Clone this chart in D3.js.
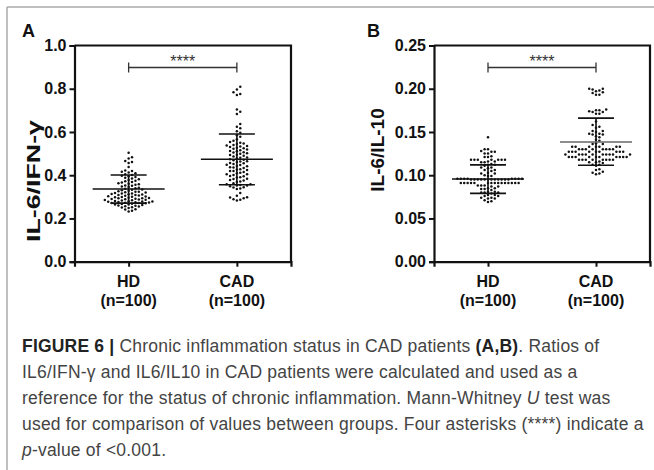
<!DOCTYPE html>
<html>
<head>
<meta charset="utf-8">
<script src="https://cdn.jsdelivr.net/npm/d3@7/dist/d3.min.js"></script>
<style>
	body { margin: 0; background: #fff; }
	svg { display: block; }
</style>
</head>
<body>
<script>
// 1. data
var groups = ["HD", "CAD"];
var groupNotes = ["(n=100)", "(n=100)"];

// panel A: IL-6/IFN-gamma
var ifnHD = [0.232, 0.236, 0.241, 0.243, 0.248, 0.251, 0.252, 0.255, 0.257, 0.259,
	0.26, 0.262, 0.264, 0.265, 0.267, 0.268, 0.27, 0.271, 0.271, 0.273,
	0.274, 0.275, 0.276, 0.277, 0.278, 0.279, 0.28, 0.281, 0.283, 0.284,
	0.285, 0.286, 0.288, 0.289, 0.29, 0.291, 0.293, 0.294, 0.295, 0.296,
	0.298, 0.299, 0.3, 0.302, 0.303, 0.305, 0.306, 0.308, 0.309, 0.311,
	0.312, 0.313, 0.315, 0.316, 0.318, 0.32, 0.321, 0.323, 0.324, 0.326,
	0.328, 0.331, 0.333, 0.334, 0.337, 0.34, 0.342, 0.345, 0.348, 0.351,
	0.353, 0.356, 0.358, 0.361, 0.363, 0.366, 0.369, 0.372, 0.375, 0.378,
	0.381, 0.385, 0.388, 0.392, 0.395, 0.398, 0.401, 0.405, 0.409, 0.413,
	0.416, 0.419, 0.422, 0.438, 0.457, 0.461, 0.466, 0.477, 0.483, 0.504];
var ifnCAD = [0.283, 0.287, 0.289, 0.294, 0.297, 0.298, 0.305, 0.318, 0.336, 0.338,
	0.343, 0.344, 0.349, 0.352, 0.353, 0.355, 0.358, 0.358, 0.363, 0.369,
	0.371, 0.376, 0.378, 0.383, 0.384, 0.389, 0.391, 0.395, 0.396, 0.401,
	0.404, 0.404, 0.409, 0.412, 0.415, 0.419, 0.42, 0.424, 0.427, 0.428,
	0.433, 0.436, 0.437, 0.442, 0.443, 0.447, 0.448, 0.452, 0.455, 0.456,
	0.461, 0.464, 0.465, 0.469, 0.472, 0.474, 0.478, 0.481, 0.482, 0.487,
	0.49, 0.493, 0.495, 0.499, 0.502, 0.505, 0.506, 0.511, 0.512, 0.516,
	0.519, 0.523, 0.525, 0.527, 0.53, 0.533, 0.535, 0.538, 0.54, 0.544,
	0.547, 0.55, 0.554, 0.559, 0.566, 0.578, 0.585, 0.597, 0.603, 0.617,
	0.624, 0.637, 0.683, 0.694, 0.704, 0.771, 0.776, 0.784, 0.797, 0.809];
var ifnMean = [0.336, 0.474];
var ifnSdHigh = [0.401, 0.591];
var ifnSdLow = [0.271, 0.356];
var ifnTicks = [0, 0.2, 0.4, 0.6, 0.8, 1.0];

// panel B: IL-6/IL-10
var il10HD = [0.069, 0.070, 0.071, 0.073, 0.073, 0.074, 0.074, 0.076, 0.076, 0.077,
	0.077, 0.079, 0.080, 0.080, 0.080, 0.081, 0.081, 0.083, 0.084, 0.084,
	0.085, 0.085, 0.087, 0.087, 0.088, 0.088, 0.088, 0.091, 0.091, 0.091,
	0.091, 0.091, 0.091, 0.091, 0.091, 0.091, 0.091, 0.091, 0.091, 0.091,
	0.091, 0.091, 0.095, 0.095, 0.095, 0.095, 0.095, 0.095, 0.095, 0.095,
	0.095, 0.095, 0.095, 0.095, 0.096, 0.096, 0.096, 0.096, 0.096, 0.096,
	0.096, 0.096, 0.099, 0.099, 0.100, 0.102, 0.102, 0.103, 0.105, 0.106,
	0.106, 0.108, 0.109, 0.109, 0.111, 0.112, 0.112, 0.113, 0.115, 0.115,
	0.116, 0.116, 0.118, 0.118, 0.118, 0.118, 0.118, 0.118, 0.118, 0.121,
	0.121, 0.122, 0.125, 0.125, 0.127, 0.127, 0.128, 0.130, 0.130, 0.144];
var il10CAD = [0.101, 0.102, 0.103, 0.104, 0.106, 0.107, 0.111, 0.112, 0.112, 0.114,
	0.115, 0.115, 0.116, 0.118, 0.118, 0.118, 0.118, 0.118, 0.118, 0.118,
	0.118, 0.121, 0.121, 0.121, 0.121, 0.121, 0.121, 0.121, 0.121, 0.121,
	0.121, 0.124, 0.124, 0.124, 0.124, 0.124, 0.124, 0.124, 0.124, 0.124,
	0.124, 0.127, 0.127, 0.127, 0.127, 0.127, 0.127, 0.127, 0.127, 0.127,
	0.130, 0.130, 0.130, 0.130, 0.130, 0.130, 0.130, 0.130, 0.133, 0.133,
	0.133, 0.133, 0.133, 0.133, 0.133, 0.136, 0.136, 0.137, 0.140, 0.141,
	0.144, 0.145, 0.147, 0.147, 0.148, 0.148, 0.150, 0.151, 0.151, 0.155,
	0.156, 0.158, 0.162, 0.171, 0.171, 0.173, 0.173, 0.174, 0.175, 0.175,
	0.176, 0.193, 0.193, 0.195, 0.196, 0.197, 0.198, 0.199, 0.200, 0.200];
var il10Mean = [0.0957, 0.1385];
var il10SdHigh = [0.112, 0.166];
var il10SdLow = [0.079, 0.1116];
var il10Ticks = [0, 0.05, 0.10, 0.15, 0.20, 0.25];

var captionLines = [
	[["FIGURE 6 |", "b"], [" Chronic inflammation status in CAD patients ", ""], ["(A,B)", "b"], [". Ratios of", ""]],
	[["IL6/IFN-\u03b3 and IL6/IL10 in CAD patients were calculated and used as a", ""]],
	[["reference for the status of chronic inflammation. Mann-Whitney ", ""], ["U", "i"], [" test was", ""]],
	[["used for comparison of values between groups. Four asterisks (****) indicate a", ""]],
	[["p", "i"], ["-value of <0.001.", ""]]
];

var width = 654;
var height = 470;
var font = "'Liberation Sans', Arial, Helvetica, sans-serif";

var svg = d3.select("body").append("svg")
	.attr("width", width)
	.attr("height", height);

// figure frame (top and left rules)
svg.append("line").attr("x1", 7).attr("y1", 7).attr("x2", width).attr("y2", 7)
	.attr("stroke", "#aaa").attr("stroke-width", 1.5);
svg.append("line").attr("x1", 7).attr("y1", 7).attr("x2", 7).attr("y2", height)
	.attr("stroke", "#aaa").attr("stroke-width", 1.5);

// spreads the dots of one group sideways so they don't overlap
function swarm(values, y, gap) {
	var placed = [];
	values.slice().sort(d3.ascending).forEach(function(v) {
		var py = y(v);
		for (var k = 0; k < 60; k++) {
			var off = (k % 2 == 1 ? 1 : -1) * Math.ceil(k / 2) * gap;
			var hit = placed.some(function(p) {
				var dx = p.dx - off, dy = p.y - py;
				return dx * dx + dy * dy < gap * gap * 0.92;
			});
			if (!hit) { placed.push({dx: off, y: py}); break; }
		}
	});
	return placed;
}

function drawPanel(cfg) {
	var g = svg.append("g");
	var x = d3.scalePoint().domain(groups).range([cfg.left, cfg.right]).padding(0.5);
	var y = d3.scaleLinear().domain([0, cfg.max]).range([cfg.bottom, cfg.top]);

	// dots
	[cfg.hd, cfg.cad].forEach(function(vals, i) {
		var pts = swarm(vals, y, 3.4);
		g.append("g").selectAll("circle")
			.data(pts)
			.enter()
			.append("circle")
			.attr("cx", function(d) { return x(groups[i]) + d.dx; })
			.attr("cy", function(d) { return d.y; })
			.attr("r", 1.25)
			.attr("fill", "#111");
	});

	// mean and SD
	groups.forEach(function(name, i) {
		var cx = x(name);
		g.append("line").attr("x1", cx).attr("x2", cx)
			.attr("y1", y(cfg.hi[i])).attr("y2", y(cfg.lo[i]))
			.attr("stroke", "#111").attr("stroke-width", 1.6);
		[cfg.hi[i], cfg.lo[i]].forEach(function(v) {
			g.append("line").attr("x1", cx - 18).attr("x2", cx + 18)
				.attr("y1", y(v)).attr("y2", y(v))
				.attr("stroke", "#111").attr("stroke-width", 1.6);
		});
		g.append("line").attr("x1", cx - 36).attr("x2", cx + 36)
			.attr("y1", y(cfg.mean[i])).attr("y2", y(cfg.mean[i]))
			.attr("stroke", cfg.meanColor[i]).attr("stroke-width", 1.6);
	});

	// axes
	var yAxis = g.append("g")
		.attr("transform", "translate(" + cfg.left + ",0)")
		.call(d3.axisLeft(y).tickValues(cfg.ticks).tickSize(5).tickPadding(3).tickFormat(d3.format(cfg.fmt)));
	var xAxis = g.append("g")
		.attr("transform", "translate(0," + cfg.bottom + ")")
		.call(d3.axisBottom(x).tickSize(5).tickFormat(""));
	[yAxis, xAxis].forEach(function(a) {
		a.select(".domain").attr("stroke-width", 2.2).attr("stroke", "#111");
		a.selectAll(".tick line").attr("stroke-width", 2).attr("stroke", "#111");
		a.selectAll("text").attr("font-family", font).attr("font-size", 16)
			.attr("font-weight", "bold").attr("fill", "#111");
	});
	// box top and right
	g.append("path")
		.attr("d", "M" + cfg.left + "," + cfg.top + "H" + cfg.right + "V" + cfg.bottom)
		.attr("fill", "none").attr("stroke", "#111").attr("stroke-width", 2.2);

	// category labels
	groups.forEach(function(name, i) {
		var t = g.append("text")
			.attr("x", x(name))
			.attr("text-anchor", "middle")
			.attr("font-family", font).attr("font-size", 16).attr("font-weight", "bold")
			.attr("fill", "#111");
		t.append("tspan").attr("x", x(name)).attr("y", cfg.bottom + 25).text(name);
		t.append("tspan").attr("x", x(name)).attr("y", cfg.bottom + 44).text(groupNotes[i]);
	});

	// y title
	var title = g.append("text")
		.attr("transform", "translate(" + cfg.titleX + "," + cfg.titleY + ") rotate(-90)")
		.attr("text-anchor", "middle")
		.attr("dominant-baseline", "central")
		.attr("font-family", font).attr("font-size", cfg.titleSize).attr("font-weight", "bold")
		.attr("fill", "#111")
		.text(cfg.title);
	if (cfg.titleLength) {
		title.attr("textLength", cfg.titleLength).attr("lengthAdjust", "spacingAndGlyphs");
	}

	// panel letter
	g.append("text").attr("x", cfg.letterX).attr("y", 37)
		.attr("font-family", font).attr("font-size", 18).attr("font-weight", "bold")
		.attr("fill", "#111").text(cfg.letter);

	// significance bracket
	var by = cfg.top + 22;
	var x1 = x(groups[0]), x2 = x(groups[1]);
	g.append("path")
		.attr("d", "M" + x1 + "," + (by - 5) + "V" + (by + 5) + "M" + x1 + "," + by + "H" + x2 +
			"M" + x2 + "," + (by - 5) + "V" + (by + 5))
		.attr("fill", "none").attr("stroke", "#333").attr("stroke-width", 1.3);
	g.append("text").attr("x", (x1 + x2) / 2).attr("y", by - 1)
		.attr("text-anchor", "middle")
		.attr("font-family", font).attr("font-size", 16).attr("fill", "#333")
		.text("****");
}

drawPanel({
	letter: "A", letterX: 22,
	left: 74.5, right: 291, top: 45.5, bottom: 261.7,
	max: 1.0, ticks: ifnTicks, fmt: ".1f",
	hd: ifnHD, cad: ifnCAD,
	mean: ifnMean, hi: ifnSdHigh, lo: ifnSdLow, meanColor: ["#111", "#111"],
	title: "IL-6/IFN-\u03b3", titleX: 33, titleY: 181, titleSize: 19, titleLength: 122
});

drawPanel({
	letter: "B", letterX: 367,
	left: 434, right: 650, top: 45.5, bottom: 261.7,
	max: 0.25, ticks: il10Ticks, fmt: ".2f",
	hd: il10HD, cad: il10CAD,
	mean: il10Mean, hi: il10SdHigh, lo: il10SdLow, meanColor: ["#111", "#666"],
	title: "IL-6/IL-10", titleX: 377, titleY: 150, titleSize: 19
});

// caption
var cap = svg.append("g")
	.attr("font-family", font)
	.attr("font-size", 17.5)
	.attr("letter-spacing", 0.2)
	.attr("fill", "#444");
captionLines.forEach(function(parts, i) {
	var t = cap.append("text").attr("x", 22).attr("y", 352 + i * 26);
	parts.forEach(function(p) {
		var s = t.append("tspan").text(p[0]);
		if (p[1] == "b") s.attr("font-weight", "bold").attr("fill", "#222");
		if (p[1] == "i") s.attr("font-style", "italic");
	});
});
</script>
</body>
</html>
